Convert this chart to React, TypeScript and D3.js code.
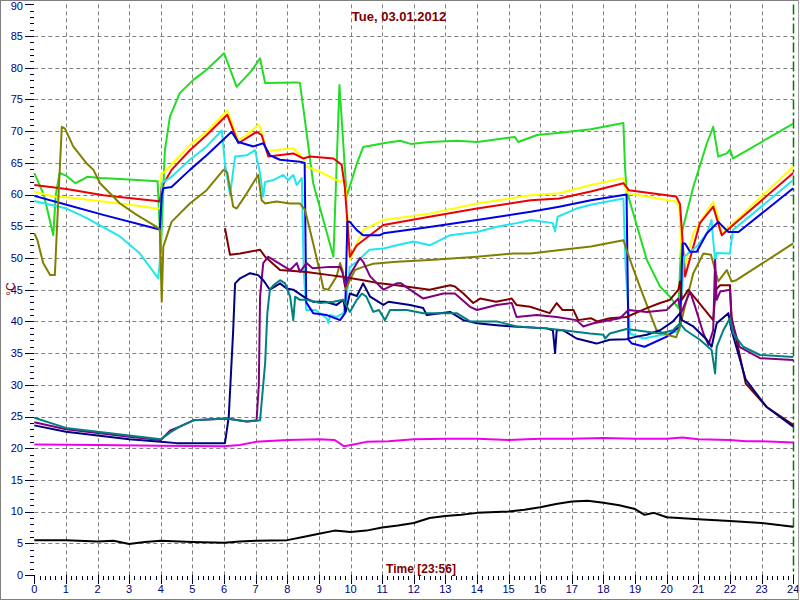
import React from "react";
import * as d3 from "d3";

type P = [number, number];

const titleText = "Tue, 03.01.2012";
const xAxisLabel = "Time [23:56]";
const yAxisLabel = "°C";
const hourTicks = d3.range(0, 25);
const valueTicks = d3.range(0, 95, 5);

const greenSeries: P[] = [[0,63.4],[0.3,60],[0.6,53.6],[0.68,60],[0.8,63.4],[1.0,63],[1.3,61.8],[1.5,62.3],[1.67,62.8],[2.1,62.6],[3,62.4],[3.9,62.1],[4.0,51],[4.13,67],[4.29,72.3],[4.6,76],[5.03,78.1],[5.45,79.7],[6.0,82.3],[6.4,77],[6.88,79.6],[7.14,81.5],[7.3,77.6],[8.3,77.7],[8.4,77.6],[8.5,73.9],[8.82,61.8],[9.46,50.2],[9.65,77.3],[9.88,59.7],[10.2,64.9],[10.4,67.5],[11.04,68.1],[11.57,68.5],[11.9,68],[12.5,68.3],[13.36,68.5],[14,68.3],[14.6,68.7],[15.2,69.1],[15.3,68.3],[15.9,69.4],[16.7,69.8],[17.6,70.3],[18.63,71.3],[18.68,64.4],[18.73,60.7],[19.37,49.7],[19.79,45.5],[20.1,43.9],[20.37,42.1],[20.47,53.9],[20.84,61.2],[21.27,68.1],[21.47,70.7],[21.63,66],[21.9,66.5],[22.0,67.1],[22.1,65.7],[24,71.2]];

const yellowSeries: P[] = [[0,60.5],[0.6,59.7],[1.02,59.6],[2.18,58.9],[3.03,58.4],[3.87,57.8],[3.97,57.8],[4.02,63.4],[4.08,63.4],[4.34,64.7],[4.92,67.8],[5.45,69.9],[5.98,72.6],[6.1,73.3],[6.45,68.6],[6.72,69.4],[7.08,71],[7.14,70.8],[7.35,66.8],[7.56,67],[8.19,67.3],[8.5,65.7],[8.61,64.4],[9.04,63.6],[9.67,62],[9.77,62.3],[9.85,61],[9.98,49.7],[10.2,52.3],[10.4,54.4],[11.04,56],[12.5,57],[14,58.6],[15.7,59.9],[16.6,60.2],[17.6,61.5],[18.63,62.6],[18.73,60.2],[20.3,58.9],[20.4,58],[20.5,47.1],[20.84,53.9],[21.47,58.9],[21.63,56.3],[21.74,53.9],[22.1,55.5],[24,64.4]];

const redSeries: P[] = [[0,61.5],[1.02,60.9],[2.18,59.9],[3.87,59],[3.97,58.9],[4.03,61.2],[4.34,63.9],[4.92,67],[5.45,69.4],[6.1,72.6],[6.45,68.1],[7.03,69.9],[7.19,69.4],[7.4,66],[8.19,66.5],[8.5,65.7],[8.72,66],[9.46,65.7],[9.72,64.7],[9.82,61.2],[9.98,50.2],[10.2,52],[11.04,55.2],[12.5,56.5],[14,57.8],[15.7,59.1],[16.6,59.4],[17.6,60.5],[18.63,61.8],[18.8,60.7],[20.3,59.7],[20.42,58.5],[20.58,47.1],[21.05,55.5],[21.47,58.1],[21.74,53.6],[22.1,55.2],[24,63.4]];

const blueSeries: P[] = [[0,59.8],[1.02,58.4],[2.18,56.8],[3.87,54.6],[3.97,54.5],[4.03,59.9],[4.08,61],[4.34,61.2],[4.92,63.9],[5.45,66.2],[6.24,69.9],[6.45,68.3],[6.93,67.6],[7.24,68.1],[7.45,66.2],[7.77,65.5],[8.4,65.2],[8.55,65],[8.6,43],[8.82,41.3],[9.25,41],[9.67,40.2],[9.83,41.3],[9.9,55.7],[9.98,55.7],[10.2,54.4],[10.4,53.6],[10.93,53.6],[11.04,53.9],[12.5,54.9],[14,56],[15.7,57.3],[16.6,58.1],[17.6,59.1],[18.73,60],[18.79,37.1],[18.9,36.5],[19.3,36],[20,37.6],[20.42,39.2],[20.5,52.3],[20.58,52.3],[20.74,51],[20.95,51],[21.27,53.9],[21.63,55.7],[21.95,54.1],[22.27,54.1],[24,61]];

const cyanSeries: P[] = [[0,59],[1.02,57.8],[1.66,56.3],[2.71,53.4],[3.34,50.7],[3.92,46.8],[3.98,50],[4.03,61.8],[4.34,62.8],[4.92,65.5],[5.45,67.6],[5.93,70.1],[6.03,64.9],[6.19,59.9],[6.35,66],[6.72,66.2],[6.98,67],[7.14,63.4],[7.24,59.7],[7.3,62],[7.56,62.3],[7.87,63.1],[8.03,62.3],[8.19,63.1],[8.3,61.5],[8.46,62.6],[8.52,48],[8.6,41.8],[8.9,41.8],[9.25,40.5],[9.3,39.7],[9.35,41],[9.56,40.7],[9.77,41.3],[9.88,43.9],[9.98,48.6],[10.2,49.4],[10.6,51.3],[11.04,51.5],[11.46,52],[12,52.6],[12.5,52],[13.15,53.6],[14,54.1],[14.6,54.9],[15.25,55.5],[15.7,56],[16.4,55.5],[16.47,54.2],[16.55,56.5],[17.15,57.8],[17.6,58.4],[18.63,59.4],[18.7,48.6],[18.84,38.1],[19.26,37.3],[20.1,38.1],[20.4,38.5],[20.55,50.2],[20.95,51.8],[21.27,53.9],[21.42,56],[21.47,52.8],[21.53,49.7],[21.58,50.8],[22,50.7],[22.05,52.8],[22.1,54.4],[24,62.3]];

const oliveSeries: P[] = [[0,53.9],[0.1,52.8],[0.28,49.2],[0.5,47.3],[0.65,47.3],[0.72,55],[0.87,70.7],[0.97,70.4],[1.23,67.6],[1.66,64.9],[1.87,63.9],[2.08,61.8],[2.71,58.6],[3.24,56.8],[3.87,54.9],[3.97,54.5],[4.03,43.1],[4.08,51.8],[4.34,55.7],[4.92,58.6],[5.45,60.7],[5.98,63.9],[6.1,63.5],[6.29,58.1],[6.4,57.8],[6.72,60.2],[7.08,63.1],[7.19,59.1],[7.3,58.6],[7.66,58.9],[8.09,58.6],[8.4,58.6],[8.56,57.6],[8.82,52.3],[9.04,47.6],[9.14,45.2],[9.3,45],[9.56,47.1],[9.67,49.2],[9.75,48],[9.85,45],[9.98,46.5],[10.14,48.1],[10.4,48.6],[10.72,49.1],[11.46,49.4],[12.5,49.7],[14,50.2],[15.15,50.7],[15.7,50.7],[16.7,51.3],[17.6,51.8],[18.63,52.8],[18.84,49.7],[19.15,45.5],[19.47,41.3],[19.68,38.6],[20,37.9],[20.3,37.5],[20.42,39.2],[20.63,43.4],[20.84,47.6],[21.16,50.7],[21.4,50.5],[21.63,46.3],[21.9,48.1],[22.05,46.3],[22.2,46.5],[24,52.3]];

const maroonSeries: P[] = [[6.03,54.7],[6.19,50.5],[6.51,50.7],[7.14,51.3],[7.3,50.2],[7.77,48.1],[8.61,47.8],[9.35,47.3],[9.67,47.1],[10.4,46.5],[10.93,46],[11.46,45.7],[12.5,45],[13.15,45.7],[13.3,45.5],[13.57,44.4],[13.88,42.9],[14.1,43.6],[14.3,43.4],[14.6,43.1],[15.1,43.6],[15.25,42.6],[15.68,42.3],[16.3,41.3],[16.52,42.9],[16.7,41.8],[17.05,41.8],[17.2,40.2],[17.6,40.5],[17.8,40],[18.2,40.5],[18.73,40.7],[19.37,42.1],[19.79,42.9],[20.1,43.4],[20.37,45],[20.42,46.3],[20.48,43.4],[20.68,45],[21.47,40.2],[21.55,45],[21.69,45.7],[22,45.7],[22.05,40.7],[22.5,30.2],[23.16,26.5],[24,23.7]];

const purpleSeries: P[] = [[0,24.1],[1,23],[2,22.4],[3,21.8],[4,21.3],[4.3,22.8],[4.6,23.4],[5.03,24.4],[6.08,24.7],[6.72,24.2],[7.03,24.4],[7.1,30],[7.14,43.9],[7.24,49.2],[7.4,50.2],[7.66,49.4],[8.09,48.1],[8.3,49.2],[8.4,47.8],[8.61,49.2],[8.8,48.4],[9.35,48.6],[9.67,48.6],[9.75,47.6],[9.83,45.5],[10.0,47.5],[10.3,50],[10.4,49.4],[10.62,47.1],[11.04,45],[11.46,46],[11.6,46],[11.88,45],[12.3,43.6],[12.94,44.4],[13.3,44.4],[13.78,42.3],[14,41.8],[14.62,42.6],[15.1,42.9],[15.25,40.7],[15.89,41],[16.52,40.7],[17.15,40.2],[17.36,39.2],[17.68,39.7],[18.52,40.5],[18.79,41.8],[19.37,41.5],[20,41.8],[20.37,43.6],[20.45,41.3],[20.74,44.7],[20.9,42.3],[21.16,38.1],[21.32,36.3],[21.47,38.6],[21.53,49.7],[21.58,43.4],[21.69,44.7],[22,45],[22.05,40.2],[22.3,36],[22.95,34.2],[24,33.9]];

const navySeries: P[] = [[0,23.6],[1,22.6],[2,22],[3,21.4],[4,21],[4.5,20.8],[6.03,20.8],[6.15,25],[6.29,38.6],[6.35,46],[6.51,46.8],[6.82,47.6],[7.08,47.3],[7.24,46.5],[7.45,45],[7.77,46],[7.98,45.2],[8.19,45],[8.61,43.6],[8.82,43.1],[9.2,43.1],[9.56,42.6],[9.77,43.4],[9.85,41.5],[9.98,44.4],[10.2,44],[10.4,46],[10.62,43.9],[11.04,42.6],[11.2,43.1],[11.88,42.6],[12.3,42.1],[12.41,41],[13.15,41.5],[13.57,40.2],[14,39.7],[14.62,39.4],[15.15,39.2],[16.2,38.9],[16.4,38.6],[16.47,35],[16.52,38.6],[16.73,38.6],[17.15,37.3],[17.78,36.5],[18.2,37.1],[18.73,37.2],[19.05,37.6],[19.37,37.9],[19.79,38.6],[20.2,40],[20.42,41.3],[20.48,40.2],[20.84,39.2],[21.27,37.1],[21.42,36],[21.58,39.7],[21.95,41.3],[22.05,38.6],[22.5,30.8],[23.16,26.5],[24,23.4]];

const tealSeries: P[] = [[0,24.8],[1,23.2],[2,22.6],[3,22],[4,21.4],[4.3,22.5],[4.6,23.4],[5.03,24.4],[6.08,24.7],[6.72,24.2],[7.14,24.4],[7.3,33.4],[7.37,41.3],[7.45,45],[7.56,45.7],[7.77,46.5],[7.93,46],[8.09,43.9],[8.19,40.2],[8.25,43.9],[8.4,43.4],[8.61,43.4],[9.04,42.9],[9.46,43.1],[9.77,43.4],[9.98,41.5],[10.2,43.4],[10.36,44.4],[10.5,43.9],[10.72,41.5],[10.9,41.8],[11.09,40.2],[11.25,41.8],[11.78,41.8],[12.3,41.3],[13.36,41.3],[13.78,40],[14.62,40],[15.25,39.2],[16.2,38.9],[16.73,38.6],[17.57,38.1],[18,37.9],[18.05,37.3],[18.2,38.1],[18.73,38.8],[19.79,38.1],[20.2,38.6],[20.42,39.7],[20.6,38.6],[21.05,37.1],[21.42,35.5],[21.53,31.8],[21.58,36],[21.79,38.6],[22,40.5],[22.1,38.1],[22.42,36],[22.95,34.7],[24,34.4]];

const magentaSeries: P[] = [[0,20.6],[2,20.5],[4,20.4],[6,20.3],[6.5,20.5],[7,21],[8,21.3],[9,21.4],[9.5,21.3],[9.8,20.3],[10.1,20.6],[10.5,21],[11.2,21.1],[12,21.4],[13,21.5],[14,21.5],[15,21.3],[16,21.5],[17,21.5],[18,21.6],[19,21.5],[20,21.5],[20.5,21.7],[21,21.4],[22,21.3],[22.5,21.1],[23,21.1],[24,20.9]];

const blackSeries: P[] = [[0,5.5],[1,5.5],[2,5.3],[2.5,5.4],[2.7,5.2],[3,4.9],[3.3,5.1],[3.5,5.2],[4,5.4],[5,5.2],[6,5.1],[6.5,5.3],[7,5.4],[8,5.5],[8.5,6],[9,6.5],[9.5,7],[10,6.8],[10.5,7],[11,7.5],[11.5,7.8],[12,8.2],[12.5,9],[13,9.3],[13.5,9.5],[14,9.8],[15,10],[15.5,10.3],[16,10.7],[16.5,11.2],[17,11.6],[17.5,11.7],[18,11.4],[18.5,11],[19,10.4],[19.3,9.5],[19.6,9.8],[20,9.1],[21,8.8],[22,8.5],[23,8.2],[24,7.6]];

const seriesList: { data: P[]; color: string }[] = [
  { data: greenSeries, color: "#22dd22" },
  { data: yellowSeries, color: "#ffff00" },
  { data: redSeries, color: "#ee0000" },
  { data: cyanSeries, color: "#22e6ee" },
  { data: blueSeries, color: "#0000e6" },
  { data: oliveSeries, color: "#808000" },
  { data: maroonSeries, color: "#800000" },
  { data: purpleSeries, color: "#800080" },
  { data: navySeries, color: "#000080" },
  { data: tealSeries, color: "#008080" },
  { data: magentaSeries, color: "#ee00ee" },
  { data: blackSeries, color: "#000000" },
];

export default function App() {
  const W = 800, H = 600;
  const x = d3.scaleLinear().domain([0, 24]).range([34.3, 793.2]);
  const y = d3.scaleLinear().domain([0, 90]).range([575, 4.4]);
  const line = d3.line<P>().x((d) => x(d[0])).y((d) => y(d[1]));
  const px = (v: number) => Math.round(v) + 0.5;
  const font = "Arial, 'Liberation Sans', sans-serif";
  const minorX = d3.range(0, 24 * 6 + 1).filter((i) => i % 6 !== 0).map((i) => i / 6);
  const minorY = d3.range(0, 91).filter((v) => v % 5 !== 0);

  return (
    <svg width={W} height={H} style={{ position: "absolute", left: 0, top: 0, background: "#fff" }}>
      <rect x={0} y={0} width={W} height={H} fill="#fff" />
      {/* grid */}
      {hourTicks.filter((h) => h > 0 && h < 24).map((h) => (
        <line key={"gx" + h} x1={px(x(h))} x2={px(x(h))} y1={y(90)} y2={y(0)} stroke="#808080" strokeDasharray="4,3" />
      ))}
      {valueTicks.filter((v) => v > 0 && v < 90).map((v) => (
        <line key={"gy" + v} x1={x(0)} x2={x(24)} y1={px(y(v))} y2={px(y(v))} stroke="#808080" strokeDasharray="4,3" />
      ))}
      {/* current-time marker */}
      <line x1={px(x(24))} x2={px(x(24))} y1={y(90)} y2={y(0)} stroke="#007a00" strokeWidth={1.5} strokeDasharray="10,3,3,3" />
      {/* series */}
      {seriesList.map((s, i) => (
        <path key={"s" + i} d={line(s.data) || ""} fill="none" stroke={s.color} strokeWidth={2} strokeLinejoin="round" />
      ))}
      {/* y axis ticks */}
      {valueTicks.map((v) => (
        <g key={"yt" + v}>
          <line x1={25} x2={34} y1={px(y(v))} y2={px(y(v))} stroke="#000030" />
          <text x={23} y={Math.max(y(v), 6.5)} dy="0.35em" textAnchor="end" fontFamily={font} fontSize={11} fill="#000080">{v}</text>
        </g>
      ))}
      {minorY.map((v) => (
        <line key={"ym" + v} x1={30} x2={34} y1={px(y(v))} y2={px(y(v))} stroke="#000030" />
      ))}
      {/* x axis ticks */}
      {hourTicks.map((h) => (
        <g key={"xt" + h}>
          <line x1={px(x(h))} x2={px(x(h))} y1={575} y2={584} stroke="#000030" />
          <text x={x(h)} y={589} dy="0.35em" textAnchor="middle" fontFamily={font} fontSize={11} fill="#000080">{h}</text>
        </g>
      ))}
      {minorX.map((h, i) => (
        <line key={"xm" + i} x1={px(x(h))} x2={px(x(h))} y1={576} y2={580} stroke="#000030" />
      ))}
      {/* labels */}
      <text x={399} y={16} dy="0.35em" textAnchor="middle" fontFamily={font} fontSize={13} fontWeight="bold" fill="#800000">{titleText}</text>
      <text x={421} y={569} dy="0.35em" textAnchor="middle" fontFamily={font} fontSize={12} fontWeight="bold" fill="#800000">{xAxisLabel}</text>
      <text transform="translate(11,289) rotate(-90)" dy="0.35em" textAnchor="middle" fontFamily={font} fontSize={12} fill="#800000">{yAxisLabel}</text>
      {/* frame */}
      <rect x={0.5} y={0.5} width={W - 2} height={H - 1} fill="none" stroke="#808080" />
      <line x1={798.5} x2={798.5} y1={0} y2={H} stroke="#a0a0a0" />
    </svg>
  );
}
